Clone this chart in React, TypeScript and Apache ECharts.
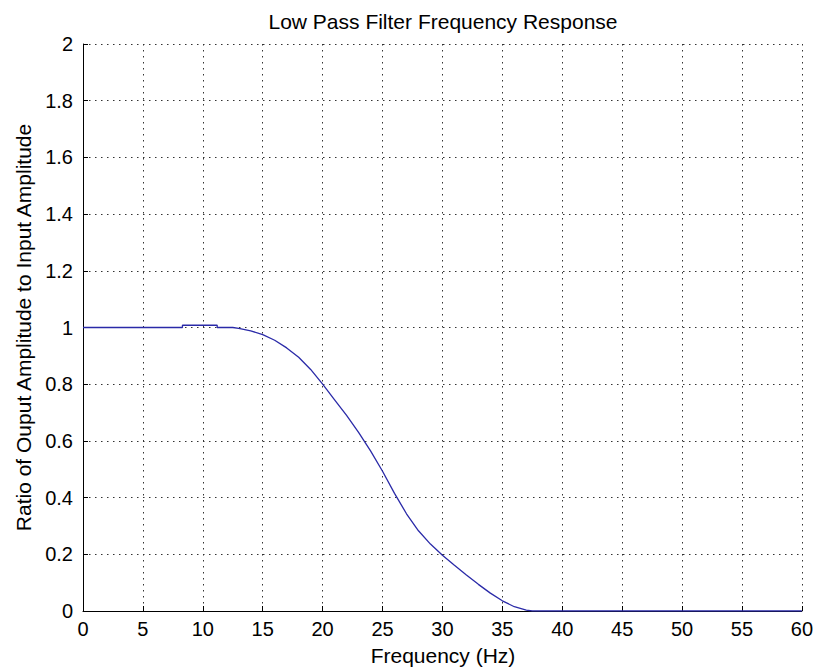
import React, { useEffect, useRef } from "react";
import * as echarts from "echarts";

const titleText = "Low Pass Filter Frequency Response";
const xLabelText = "Frequency (Hz)";
const yLabelText = "Ratio of Ouput Amplitude to Input Amplitude";

const frequencies = [0, 8.3, 8.3, 11.2, 11.2, 12.5, 13, 14, 15, 16, 17, 18, 19, 20, 21, 22, 23, 24, 25, 26, 27, 28, 29, 30, 31, 32, 33, 34, 35, 36, 37, 37.5, 60];
const amplitudes = [1, 1, 1.008, 1.008, 1, 1, 0.997, 0.988, 0.975, 0.955, 0.928, 0.895, 0.852, 0.8, 0.745, 0.69, 0.63, 0.565, 0.493, 0.415, 0.343, 0.283, 0.236, 0.197, 0.161, 0.127, 0.094, 0.063, 0.036, 0.015, 0.003, 0, 0];

const xMin = 0, xMax = 60, xStep = 5;
const yMin = 0, yMax = 2, yStep = 0.2;

const FONT = '"Liberation Sans", Arial, Helvetica, sans-serif';

export default function App() {
  const ref = useRef<HTMLDivElement>(null);
  useEffect(() => {
    if (!ref.current) return;
    const chart = echarts.init(ref.current, null, { renderer: "svg" });
    const left = 83, right = 13, top = 44, bottom = 61;
    const plotW = 816 - left - right;
    const plotH = 672 - top - bottom;
    const gridLine = { show: true, lineStyle: { color: "#333", width: 1, type: [1.5, 4.5] as any } };
    chart.setOption({
      animation: false,
      backgroundColor: "#fff",
      grid: { left, right, top, bottom, containLabel: false },
      xAxis: {
        type: "value",
        min: xMin,
        max: xMax,
        interval: xStep,
        axisLine: { show: true, onZero: false, lineStyle: { color: "#000", width: 1 } },
        axisTick: { show: true, inside: true, length: 5, lineStyle: { color: "#000" } },
        axisLabel: { color: "#000", fontFamily: FONT, fontSize: 20, margin: 8 },
        splitLine: gridLine,
      },
      yAxis: {
        type: "value",
        min: yMin,
        max: yMax,
        interval: yStep,
        axisLine: { show: true, onZero: false, lineStyle: { color: "#000", width: 1 } },
        axisTick: { show: true, inside: true, length: 5, lineStyle: { color: "#000" } },
        axisLabel: {
          color: "#000",
          fontFamily: FONT,
          fontSize: 20,
          margin: 10,
          formatter: (v: number) => String(Math.round(v * 10) / 10),
        },
        splitLine: gridLine,
      },
      graphic: [
        {
          type: "text",
          x: left + plotW / 2,
          y: 21,
          style: { text: titleText, font: `21px ${FONT}`, fill: "#000", textAlign: "center", textVerticalAlign: "middle" },
        },
        {
          type: "text",
          x: left + plotW / 2,
          y: 655,
          style: { text: xLabelText, font: `21px ${FONT}`, fill: "#000", textAlign: "center", textVerticalAlign: "middle" },
        },
        {
          type: "text",
          x: 23,
          y: top + plotH / 2,
          rotation: Math.PI / 2,
          style: { text: yLabelText, font: `21px ${FONT}`, fill: "#000", textAlign: "center", textVerticalAlign: "middle" },
        },
      ],
      series: [
        {
          type: "line",
          data: frequencies.map((f, i) => [f, amplitudes[i]]),
          showSymbol: false,
          lineStyle: { color: "#2a2aa8", width: 1.3 },
          z: 5,
        },
      ],
    });
    return () => chart.dispose();
  }, []);
  return (
    <div
      ref={ref}
      style={{ position: "fixed", left: 0, top: 0, width: 816, height: 672, background: "#fff" }}
    />
  );
}
